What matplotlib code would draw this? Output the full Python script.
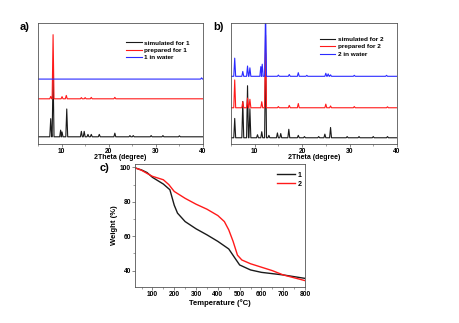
import numpy as np
import matplotlib
matplotlib.use("Agg")
import matplotlib.pyplot as plt
from matplotlib.ticker import MultipleLocator

plt.rcParams["font.family"] = ["Liberation Sans", "DejaVu Sans"]
plt.rcParams["font.weight"] = "bold"

# panel a) PXRD of compound 1: peak positions (2theta) and heights, plus baselines
sim1_pos = [7.7, 8.2, 9.8, 10.1, 11.1, 14.2, 14.8, 15.6, 16.3, 18.0, 21.3, 24.5, 25.2, 29.0, 31.5, 35.0]
sim1_h = [0.15, 0.53, 0.055, 0.04, 0.23, 0.045, 0.045, 0.02, 0.02, 0.02, 0.03, 0.01, 0.01, 0.01, 0.01, 0.008]
prep1_pos = [7.7, 8.2, 10.1, 11.0, 14.2, 15.0, 16.3, 21.3]
prep1_h = [0.02, 0.53, 0.018, 0.028, 0.01, 0.01, 0.012, 0.012]
water1_pos = [39.7]
water1_h = [0.01]
base1 = {"sim": 0.06, "prep": 0.374, "water": 0.537}

# panel b) PXRD of compound 2
sim2_pos = [5.8, 7.5, 8.5, 9.0, 10.6, 11.5, 12.3, 13.0, 14.8, 15.5, 17.2, 19.2, 20.5, 23.5, 24.8, 26.0, 29.5, 32.0, 35.0, 38.0]
sim2_h = [0.16, 0.30, 0.43, 0.24, 0.025, 0.05, 0.70, 0.02, 0.04, 0.035, 0.07, 0.02, 0.01, 0.01, 0.03, 0.085, 0.01, 0.01, 0.01, 0.01]
prep2_pos = [5.8, 7.5, 8.5, 9.0, 11.5, 12.3, 15.0, 17.3, 19.2, 25.0, 26.0, 31.0, 38.0]
prep2_h = [0.23, 0.05, 0.08, 0.07, 0.05, 0.60, 0.01, 0.02, 0.035, 0.03, 0.015, 0.01, 0.008]
water2_pos = [5.8, 7.5, 8.5, 9.0, 11.3, 11.6, 12.3, 15.0, 17.3, 19.2, 21.0, 25.0, 25.5, 26.0, 31.0, 37.8]
water2_h = [0.15, 0.04, 0.085, 0.07, 0.08, 0.10, 0.55, 0.01, 0.015, 0.03, 0.008, 0.025, 0.02, 0.012, 0.008, 0.008]
base2 = {"sim": 0.052, "prep": 0.30, "water": 0.56}

# panel c) TGA
temp1 = [25, 50, 75, 100, 150, 180, 200, 215, 250, 300, 350, 400, 450, 480, 500, 550, 600, 700, 800]
weight1 = [99.5, 98.5, 97.0, 94.2, 90.3, 87.0, 78.0, 73.4, 68.5, 64.3, 60.8, 57.0, 52.6, 47.0, 43.3, 40.4, 39.0, 37.5, 35.5]
temp2 = [25, 50, 75, 100, 150, 175, 200, 250, 300, 350, 400, 430, 450, 470, 490, 510, 550, 600, 650, 700, 800]
weight2 = [99.5, 98.3, 96.5, 94.8, 92.8, 90.0, 86.0, 82.0, 78.6, 75.7, 72.0, 68.5, 63.7, 57.0, 49.0, 46.2, 44.0, 42.0, 40.0, 37.5, 34.2]

BLACK = "#1a1a1a"
RED = "#ff1a1a"
BLUE = "#2b2bff"
FRAME = "#555555"


def stick_pattern(pos, heights, base, lo=5, hi=40, w=0.2):
    xs, ys = [lo], [base]
    for p, h in sorted(zip(pos, heights)):
        xs += [p - w, p, p + w]
        ys += [base, base + h, base]
    xs.append(hi)
    ys.append(base)
    return xs, ys


def style_axes(ax):
    for s in ax.spines.values():
        s.set_color(FRAME)
        s.set_linewidth(0.6)
    ax.tick_params(axis="both", direction="out", length=2, width=0.5, color=FRAME,
                   labelsize=4.8, pad=1)
    ax.tick_params(which="minor", direction="out", length=1.2, width=0.4, color=FRAME)


def xrd_panel(ax, series, labels, legend_anchor):
    colors = [BLACK, RED, BLUE]
    for (pos, h, b), lab, c in zip(series, labels, colors):
        xs, ys = stick_pattern(pos, h, b)
        ax.plot(xs, ys, color=c, lw=0.8, label=lab)
    ax.set_xlim(5, 40)
    ax.set_ylim(0, 1)
    ax.set_xticks([10, 20, 30, 40])
    ax.xaxis.set_minor_locator(MultipleLocator(5))
    ax.set_yticks([])
    style_axes(ax)
    ax.set_xlabel("2Theta (degree)", fontsize=5, fontweight="bold", labelpad=-1)
    ax.legend(loc="upper left", bbox_to_anchor=legend_anchor, frameon=False, fontsize=4.6,
              handlelength=2.4, handletextpad=0.4, labelspacing=0.3, borderaxespad=0)


fig = plt.figure(figsize=(4.6, 3.23), dpi=100)

ax_a = fig.add_axes([0.0826, 0.554, 0.3587, 0.3746])
xrd_panel(ax_a,
          [(sim1_pos, sim1_h, base1["sim"]),
           (prep1_pos, prep1_h, base1["prep"]),
           (water1_pos, water1_h, base1["water"])],
          ["simulated for 1", "prepared for 1", "1 in water"],
          (0.52, 0.88))

ax_b = fig.add_axes([0.502, 0.554, 0.361, 0.3746])
xrd_panel(ax_b,
          [(sim2_pos, sim2_h, base2["sim"]),
           (prep2_pos, prep2_h, base2["prep"]),
           (water2_pos, water2_h, base2["water"])],
          ["simulated for 2", "prepared for 2", "2 in water"],
          (0.52, 0.91))

ax_c = fig.add_axes([0.2935, 0.1115, 0.3696, 0.381])
ax_c.plot(temp1, weight1, color=BLACK, lw=1.0, label="1")
ax_c.plot(temp2, weight2, color=RED, lw=1.0, label="2")
ax_c.set_xlim(20, 800)
ax_c.set_ylim(30.5, 102)
ax_c.set_xticks(range(100, 801, 100))
ax_c.set_yticks([40, 60, 80, 100])
ax_c.xaxis.set_minor_locator(MultipleLocator(50))
ax_c.yaxis.set_minor_locator(MultipleLocator(10))
style_axes(ax_c)
ax_c.set_xlabel("Temperature (\u00b0C)", fontsize=5.5, fontweight="bold", labelpad=0.5)
ax_c.set_ylabel("Weight (%)", fontsize=5.5, fontweight="bold", labelpad=1)
ax_c.legend(loc="upper left", bbox_to_anchor=(0.82, 0.96), frameon=False, fontsize=5,
            handlelength=2.6, handletextpad=0.3, labelspacing=0.3, borderaxespad=0)

fig.text(0.054, 0.916, "a)", fontsize=8, fontweight="bold", ha="center", va="center")
fig.text(0.474, 0.916, "b)", fontsize=8, fontweight="bold", ha="center", va="center")
fig.text(0.228, 0.48, "c)", fontsize=8, fontweight="bold", ha="center", va="center")

fig.savefig("out.png", dpi=100)
